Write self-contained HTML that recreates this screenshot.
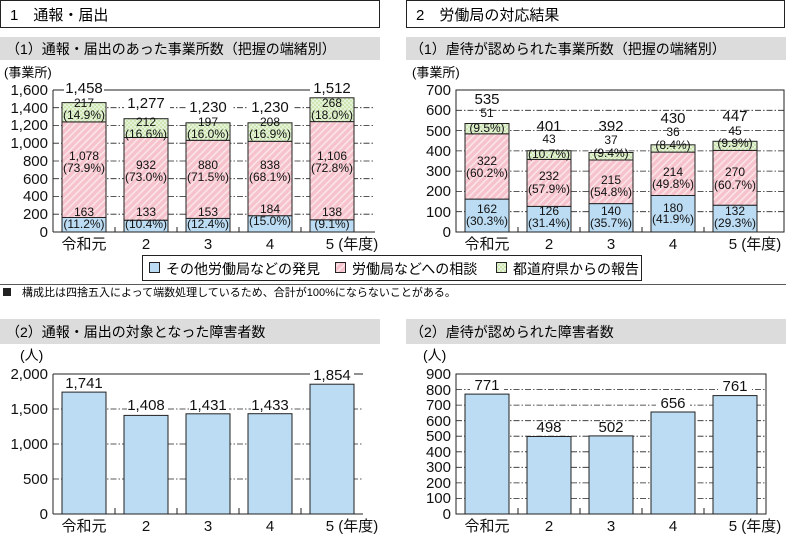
<!DOCTYPE html>
<html><head><meta charset="utf-8"><style>
html,body{margin:0;padding:0;background:#fff;}
svg{display:block;font-family:"Liberation Sans","Noto Sans CJK JP",sans-serif;}
.t{font-size:12px;text-anchor:middle;fill:#111;}
.tt{font-size:15px;text-anchor:middle;fill:#111;}
.yl{font-size:15px;text-anchor:end;fill:#111;}
.xl{font-size:15px;text-anchor:middle;fill:#111;}
.g{stroke:#222;stroke-width:0.8;stroke-dasharray:6 2 1.5 2;}
.bar{stroke:#222;stroke-width:1;}
.wb{fill:#fff;}
</style></head><body>
<svg width="786" height="534" viewBox="0 0 786 534">
<defs>
<pattern id="pk" width="5" height="5" patternUnits="userSpaceOnUse" patternTransform="rotate(45)">
<rect width="5" height="5" fill="#f6c3cc"/><rect width="1.6" height="5" fill="#fbe4e8"/></pattern>
<pattern id="gr" width="4" height="4" patternUnits="userSpaceOnUse">
<rect width="4" height="4" fill="#cde6b4"/><rect width="2" height="2" fill="#e6f3d9"/><rect x="2" y="2" width="2" height="2" fill="#e6f3d9"/></pattern>
</defs>
<!-- headers -->
<rect x="0.5" y="0.5" width="379" height="27" fill="#fff" stroke="#222"/>
<text x="10" y="20" font-size="15">1　通報・届出</text>
<rect x="406.5" y="0.5" width="378" height="27" fill="#fff" stroke="#222"/>
<text x="416" y="20" font-size="15">2　労働局の対応結果</text>
<rect x="0" y="37" width="380" height="23" fill="#dcdcdc"/>
<text x="6" y="54" font-size="14">（1）通報・届出のあった事業所数（把握の端緒別）</text>
<rect x="406" y="37" width="380" height="23" fill="#dcdcdc"/>
<text x="410" y="54" font-size="14">（1）虐待が認められた事業所数（把握の端緒別）</text>

<!-- top-left chart -->
<text x="4" y="77" font-size="13">(事業所)</text>
<g class="g"><line x1="53" y1="214.2" x2="375" y2="214.2"/><line x1="53" y1="196.5" x2="375" y2="196.5"/><line x1="53" y1="178.7" x2="375" y2="178.7"/><line x1="53" y1="161" x2="375" y2="161"/><line x1="53" y1="143.2" x2="375" y2="143.2"/><line x1="53" y1="125.5" x2="375" y2="125.5"/><line x1="53" y1="107.7" x2="375" y2="107.7"/></g>
<line x1="53" y1="90" x2="355" y2="90" stroke="#222"/>
<line x1="53" y1="90" x2="53" y2="232" stroke="#222"/>
<line x1="53" y1="232" x2="375" y2="232" stroke="#222"/>
<g stroke="#222"><line x1="115" y1="227" x2="115" y2="232"/><line x1="177" y1="227" x2="177" y2="232"/><line x1="239" y1="227" x2="239" y2="232"/><line x1="301" y1="227" x2="301" y2="232"/></g>
<g class="yl"><text x="48" y="237">0</text><text x="48" y="219">200</text><text x="48" y="201">400</text><text x="48" y="184">600</text><text x="48" y="166">800</text><text x="48" y="148">1,000</text><text x="48" y="130">1,200</text><text x="48" y="113">1,400</text><text x="48" y="95">1,600</text></g>
<g class="bar">
<rect x="62" y="217.5" width="44" height="14.5" fill="#bcdcf3"/><rect x="62" y="121.9" width="44" height="95.6" fill="url(#pk)"/><rect x="62" y="102.6" width="44" height="19.3" fill="url(#gr)"/>
<rect x="124" y="220.2" width="44" height="11.8" fill="#bcdcf3"/><rect x="124" y="137.5" width="44" height="82.7" fill="url(#pk)"/><rect x="124" y="118.7" width="44" height="18.8" fill="url(#gr)"/>
<rect x="186" y="218.4" width="44" height="13.6" fill="#bcdcf3"/><rect x="186" y="140.3" width="44" height="78.1" fill="url(#pk)"/><rect x="186" y="122.8" width="44" height="17.5" fill="url(#gr)"/>
<rect x="248" y="215.7" width="44" height="16.3" fill="#bcdcf3"/><rect x="248" y="141.3" width="44" height="74.4" fill="url(#pk)"/><rect x="248" y="122.8" width="44" height="18.5" fill="url(#gr)"/>
<rect x="310" y="219.8" width="44" height="12.2" fill="#bcdcf3"/><rect x="310" y="121.6" width="44" height="98.2" fill="url(#pk)"/><rect x="310" y="97.8" width="44" height="23.8" fill="url(#gr)"/>
</g>
<g class="wb"><rect x="64" y="80" width="40" height="16"/><rect x="124" y="95" width="46" height="15"/><rect x="186" y="99" width="46" height="15"/><rect x="248" y="99" width="46" height="15"/><rect x="310" y="80" width="46" height="16"/></g>
<g class="tt"><text x="84" y="93">1,458</text><text x="146" y="108">1,277</text><text x="208" y="112">1,230</text><text x="270" y="112">1,230</text><text x="332" y="93">1,512</text></g>
<g class="t">
<text x="84" y="107">217</text><text x="84" y="119">(14.9%)</text><text x="84" y="160">1,078</text><text x="84" y="172">(73.9%)</text><text x="84" y="216">163</text><text x="84" y="228">(11.2%)</text>
<text x="146" y="126">212</text><text x="146" y="138">(16.6%)</text><text x="146" y="169">932</text><text x="146" y="181">(73.0%)</text><text x="146" y="216">133</text><text x="146" y="228">(10.4%)</text>
<text x="208" y="126">197</text><text x="208" y="138">(16.0%)</text><text x="208" y="169">880</text><text x="208" y="181">(71.5%)</text><text x="208" y="216">153</text><text x="208" y="228">(12.4%)</text>
<text x="270" y="126">208</text><text x="270" y="138">(16.9%)</text><text x="270" y="169">838</text><text x="270" y="181">(68.1%)</text><text x="270" y="213">184</text><text x="270" y="225">(15.0%)</text>
<text x="332" y="107">268</text><text x="332" y="119">(18.0%)</text><text x="332" y="160">1,106</text><text x="332" y="172">(72.8%)</text><text x="332" y="216">138</text><text x="332" y="228">(9.1%)</text>
</g>
<g class="xl"><text x="84" y="249">令和元</text><text x="146" y="249">2</text><text x="208" y="249">3</text><text x="270" y="249">4</text><text x="352" y="249">5 (年度)</text></g>

<!-- top-right chart -->
<text x="412" y="77" font-size="13">(事業所)</text>
<g class="g"><line x1="456" y1="211.7" x2="784" y2="211.7"/><line x1="456" y1="191.4" x2="784" y2="191.4"/><line x1="456" y1="171.1" x2="784" y2="171.1"/><line x1="456" y1="150.9" x2="784" y2="150.9"/><line x1="456" y1="130.6" x2="784" y2="130.6"/><line x1="456" y1="110.3" x2="784" y2="110.3"/></g>
<rect x="456" y="90" width="328" height="142" fill="none" stroke="#222"/>
<g stroke="#222"><line x1="518" y1="227" x2="518" y2="232"/><line x1="580" y1="227" x2="580" y2="232"/><line x1="642" y1="227" x2="642" y2="232"/><line x1="704" y1="227" x2="704" y2="232"/></g>
<g class="yl"><text x="451" y="237">0</text><text x="451" y="217">100</text><text x="451" y="196">200</text><text x="451" y="176">300</text><text x="451" y="156">400</text><text x="451" y="136">500</text><text x="451" y="115">600</text><text x="451" y="95">700</text></g>
<g class="bar">
<rect x="465" y="199.1" width="44" height="32.9" fill="#bcdcf3"/><rect x="465" y="133.8" width="44" height="65.3" fill="url(#pk)"/><rect x="465" y="123.5" width="44" height="10.3" fill="url(#gr)"/>
<rect x="527" y="206.4" width="44" height="25.6" fill="#bcdcf3"/><rect x="527" y="159.4" width="44" height="47" fill="url(#pk)"/><rect x="527" y="150.7" width="44" height="8.7" fill="url(#gr)"/>
<rect x="589" y="203.6" width="44" height="28.4" fill="#bcdcf3"/><rect x="589" y="160" width="44" height="43.6" fill="url(#pk)"/><rect x="589" y="152.5" width="44" height="7.5" fill="url(#gr)"/>
<rect x="651" y="195.5" width="44" height="36.5" fill="#bcdcf3"/><rect x="651" y="152.1" width="44" height="43.4" fill="url(#pk)"/><rect x="651" y="144.8" width="44" height="7.3" fill="url(#gr)"/>
<rect x="713" y="205.2" width="44" height="26.8" fill="#bcdcf3"/><rect x="713" y="150.4" width="44" height="54.8" fill="url(#pk)"/><rect x="713" y="141.3" width="44" height="9.1" fill="url(#gr)"/>
</g>
<g class="tt"><text x="487" y="104">535</text><text x="549" y="131">401</text><text x="611" y="131">392</text><text x="673" y="123">430</text><text x="735" y="121">447</text></g>
<g class="t">
<text x="487" y="117">51</text><text x="487" y="132">(9.5%)</text><text x="487" y="165">322</text><text x="487" y="177">(60.2%)</text><text x="487" y="213">162</text><text x="487" y="225">(30.3%)</text>
<text x="549" y="143">43</text><text x="549" y="158">(10.7%)</text><text x="549" y="180">232</text><text x="549" y="193">(57.9%)</text><text x="549" y="215">126</text><text x="549" y="227">(31.4%)</text>
<text x="611" y="144">37</text><text x="611" y="157">(9.4%)</text><text x="611" y="184">215</text><text x="611" y="196">(54.8%)</text><text x="611" y="215">140</text><text x="611" y="227">(35.7%)</text>
<text x="673" y="136">36</text><text x="673" y="149">(8.4%)</text><text x="673" y="176">214</text><text x="673" y="188">(49.8%)</text><text x="673" y="212">180</text><text x="673" y="223">(41.9%)</text>
<text x="735" y="135">45</text><text x="735" y="147">(9.9%)</text><text x="735" y="176">270</text><text x="735" y="189">(60.7%)</text><text x="735" y="215">132</text><text x="735" y="227">(29.3%)</text>
</g>
<g class="xl"><text x="487" y="249">令和元</text><text x="549" y="249">2</text><text x="611" y="249">3</text><text x="673" y="249">4</text><text x="755" y="249">5 (年度)</text></g>

<!-- legend -->
<rect x="142.5" y="255.5" width="499" height="25" fill="#fff" stroke="#222"/>
<g font-size="14">
<rect x="149.5" y="262.5" width="10" height="10" fill="#bcdcf3" stroke="#222"/><text x="166" y="274">その他労働局などの発見</text>
<rect x="335.5" y="262.5" width="10" height="10" fill="url(#pk)" stroke="#222"/><text x="352" y="274">労働局などへの相談</text>
<rect x="496.5" y="262.5" width="10" height="10" fill="url(#gr)" stroke="#222"/><text x="513" y="274">都道府県からの報告</text>
</g>
<line x1="0" y1="284.5" x2="786" y2="284.5" stroke="#222" stroke-width="0.8"/>
<rect x="3" y="288" width="8" height="8" fill="#222"/>
<text x="22" y="296" font-size="11">構成比は四捨五入によって端数処理しているため、合計が100%にならないことがある。</text>

<rect x="0" y="319" width="380" height="25" fill="#dcdcdc"/>
<text x="6" y="337" font-size="14">（2）通報・届出の対象となった障害者数</text>
<rect x="406" y="319" width="380" height="25" fill="#dcdcdc"/>
<text x="410" y="337" font-size="14">（2）虐待が認められた障害者数</text>

<!-- bottom-left -->
<text x="20" y="360" font-size="14">(人)</text>
<g class="g"><line x1="53" y1="479" x2="363" y2="479"/><line x1="53" y1="444" x2="363" y2="444"/><line x1="53" y1="409" x2="363" y2="409"/></g>
<line x1="53" y1="374" x2="363" y2="374" stroke="#222"/>
<line x1="53" y1="374" x2="53" y2="514" stroke="#222"/>
<line x1="53" y1="514" x2="363" y2="514" stroke="#222"/>
<g stroke="#222"><line x1="115" y1="508" x2="115" y2="514"/><line x1="177" y1="508" x2="177" y2="514"/><line x1="239" y1="508" x2="239" y2="514"/><line x1="301" y1="508" x2="301" y2="514"/></g>
<g class="yl"><text x="48" y="519">0</text><text x="48" y="484">500</text><text x="48" y="449">1,000</text><text x="48" y="414">1,500</text><text x="48" y="379">2,000</text></g>
<g class="bar" fill="#bcdcf3">
<rect x="62" y="392.1" width="44" height="121.9"/><rect x="124" y="415.4" width="44" height="98.6"/><rect x="186" y="413.8" width="44" height="100.2"/><rect x="248" y="413.7" width="44" height="100.3"/><rect x="310" y="384.2" width="44" height="129.8"/>
</g>
<g class="wb"><rect x="127" y="398" width="40" height="14"/><rect x="189" y="398" width="40" height="14"/><rect x="251" y="398" width="40" height="14"/><rect x="310" y="367" width="44" height="14"/></g>
<g class="tt"><text x="84" y="388">1,741</text><text x="146" y="410">1,408</text><text x="208" y="410">1,431</text><text x="270" y="410">1,433</text><text x="332" y="380">1,854</text></g>
<g class="xl"><text x="84" y="531">令和元</text><text x="146" y="531">2</text><text x="208" y="531">3</text><text x="270" y="531">4</text><text x="352" y="531">5 (年度)</text></g>

<!-- bottom-right -->
<text x="423" y="360" font-size="14">(人)</text>
<g class="g"><line x1="456" y1="498.4" x2="766" y2="498.4"/><line x1="456" y1="482.9" x2="766" y2="482.9"/><line x1="456" y1="467.3" x2="766" y2="467.3"/><line x1="456" y1="451.8" x2="766" y2="451.8"/><line x1="456" y1="436.2" x2="766" y2="436.2"/><line x1="456" y1="420.7" x2="766" y2="420.7"/><line x1="456" y1="405.1" x2="766" y2="405.1"/><line x1="456" y1="389.6" x2="766" y2="389.6"/></g>
<rect x="456" y="374" width="310" height="140" fill="none" stroke="#222"/>
<g stroke="#222"><line x1="518" y1="508" x2="518" y2="514"/><line x1="580" y1="508" x2="580" y2="514"/><line x1="642" y1="508" x2="642" y2="514"/><line x1="704" y1="508" x2="704" y2="514"/></g>
<g class="yl"><text x="451" y="519">0</text><text x="451" y="503">100</text><text x="451" y="488">200</text><text x="451" y="472">300</text><text x="451" y="457">400</text><text x="451" y="441">500</text><text x="451" y="426">600</text><text x="451" y="410">700</text><text x="451" y="395">800</text><text x="451" y="379">900</text></g>
<g class="bar" fill="#bcdcf3">
<rect x="465" y="394.1" width="44" height="119.9"/><rect x="527" y="436.5" width="44" height="77.5"/><rect x="589" y="435.9" width="44" height="78.1"/><rect x="651" y="412" width="44" height="102"/><rect x="713" y="395.6" width="44" height="118.4"/>
</g>
<g class="wb"><rect x="470" y="378" width="34" height="14"/><rect x="656" y="396" width="34" height="14"/><rect x="718" y="379" width="34" height="14"/></g>
<g class="tt"><text x="487" y="390">771</text><text x="549" y="432">498</text><text x="611" y="432">502</text><text x="673" y="408">656</text><text x="735" y="391">761</text></g>
<g class="xl"><text x="487" y="531">令和元</text><text x="549" y="531">2</text><text x="611" y="531">3</text><text x="673" y="531">4</text><text x="755" y="531">5 (年度)</text></g>
</svg>
</body></html>
